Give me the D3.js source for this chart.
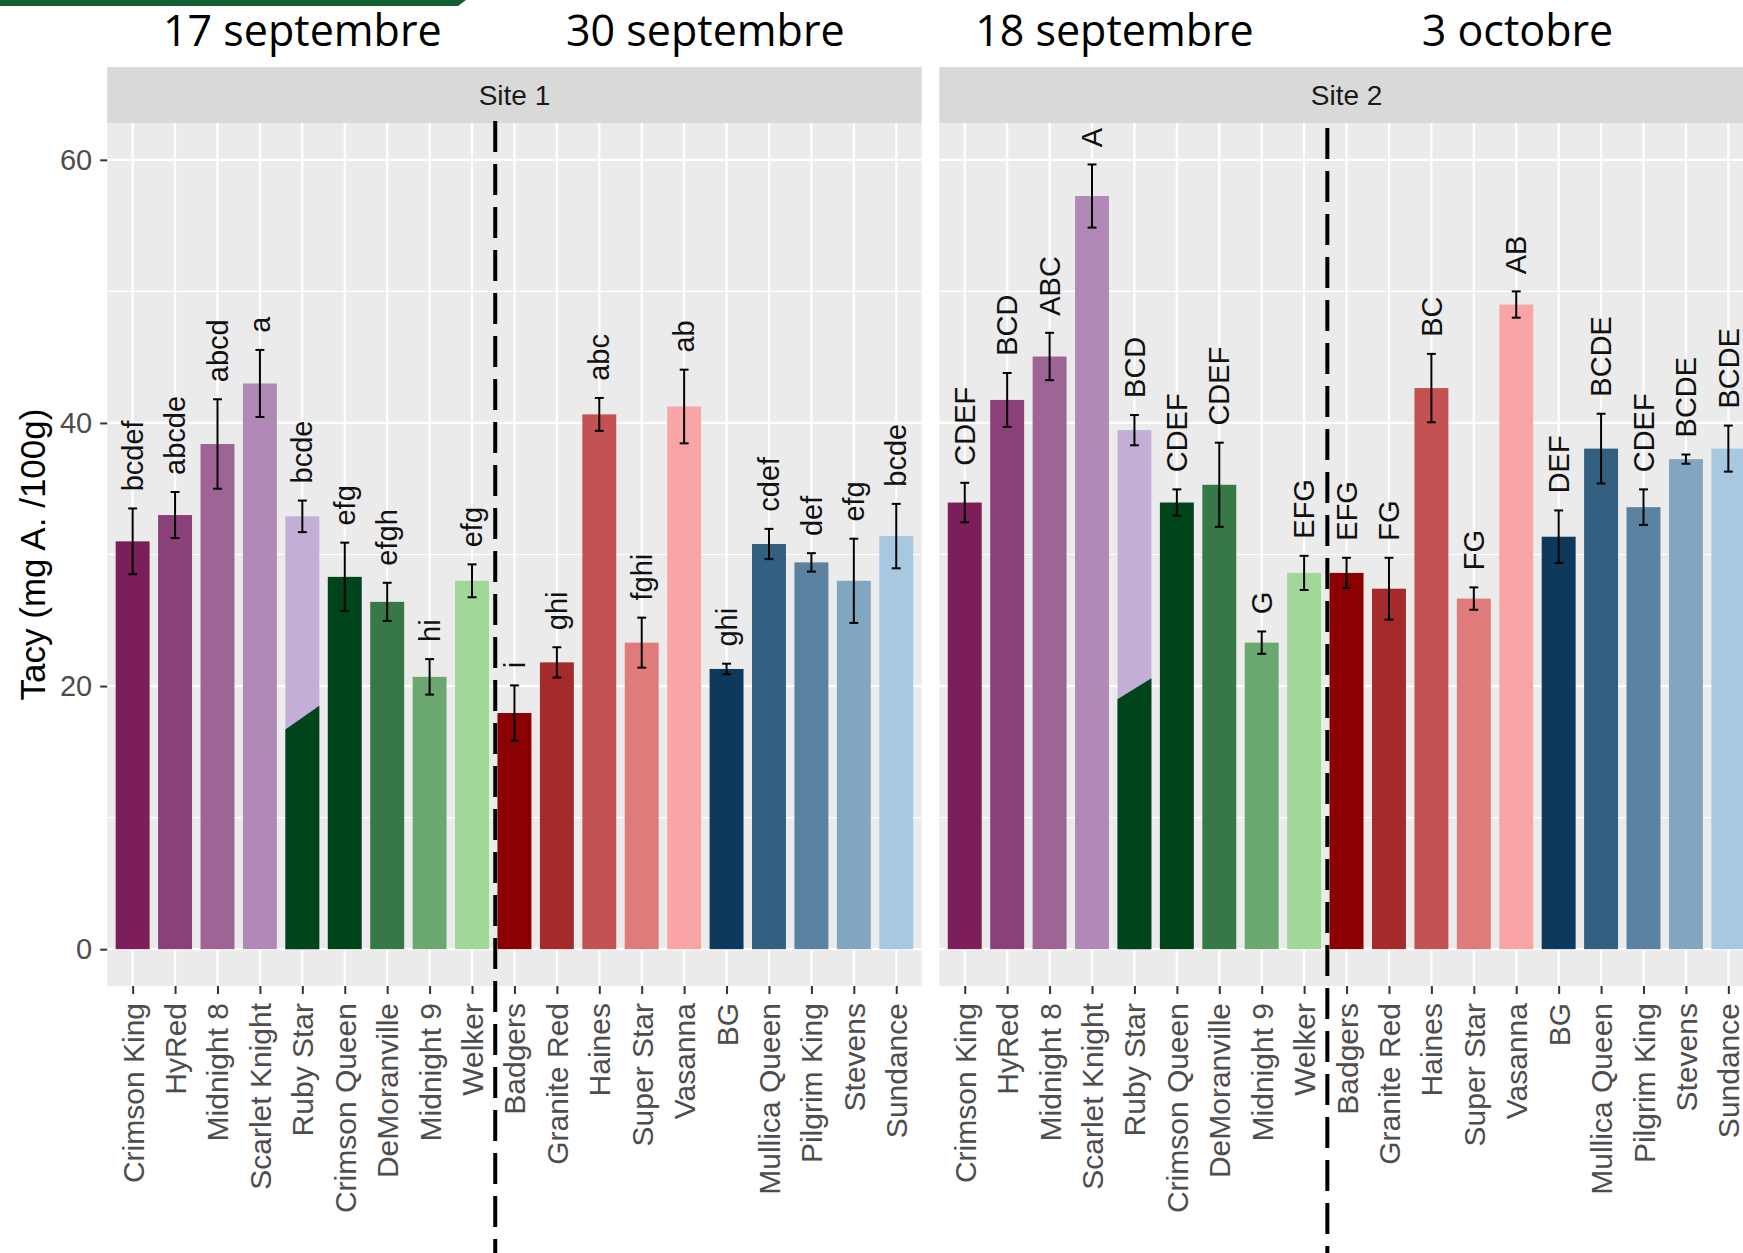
<!DOCTYPE html>
<html>
<head>
<meta charset="utf-8">
<script src="https://cdn.jsdelivr.net/npm/d3@7"></script>
<style>
  body { margin: 0; background: #fff; }
  svg { display: block; font-family: 'Liberation Sans', Arial, sans-serif; }
</style>
</head>
<body>
<svg id="chart" width="1743" height="1253"></svg>
<script>
// cultivars, same order in both sites
const cultivars = ['Crimson King', 'HyRed', 'Midnight 8', 'Scarlet Knight', 'Ruby Star',
  'Crimson Queen', 'DeMoranville', 'Midnight 9', 'Welker', 'Badgers', 'Granite Red',
  'Haines', 'Super Star', 'Vasanna', 'BG', 'Mullica Queen', 'Pilgrim King', 'Stevens', 'Sundance'];

const barColors = ['#7b1e5a', '#8a4079', '#9e6496', '#b189b6', '#c3afd6', '#00441b',
  '#367848', '#6aa86f', '#a1d799', '#8b0000', '#a52a2a', '#c45252', '#e07b7b', '#f9a5a5',
  '#0d3a5c', '#335f80', '#5b82a0', '#80a6c1', '#a7c8e1'];

// Tacy (mg A. /100g), mean and standard error
const site1Mean = [31.0, 33.0, 38.4, 43.0, 32.9, 28.3, 26.4, 20.7, 28.0, 17.95, 21.8,
  40.65, 23.3, 41.25, 21.3, 30.8, 29.4, 28.0, 31.4];
const site1Se = [2.5, 1.75, 3.4, 2.55, 1.2, 2.6, 1.45, 1.35, 1.25, 2.1, 1.15,
  1.25, 1.9, 2.8, 0.4, 1.15, 0.7, 3.2, 2.45];
const site1Letters = ['bcdef', 'abcde', 'abcd', 'a', 'bcde', 'efg', 'efgh', 'hi', 'efg', 'i',
  'ghi', 'abc', 'fghi', 'ab', 'ghi', 'cdef', 'def', 'efg', 'bcde'];

const site2Mean = [33.95, 41.75, 45.05, 57.25, 39.45, 33.95, 35.3, 23.3, 28.6, 28.6, 27.4,
  42.65, 26.65, 49.0, 31.35, 38.05, 33.6, 37.25, 38.05];
const site2Se = [1.5, 2.05, 1.8, 2.4, 1.15, 1.0, 3.2, 0.85, 1.3, 1.15, 2.35,
  2.6, 0.85, 1.0, 2.0, 2.65, 1.35, 0.35, 1.75];
const site2Letters = ['CDEF', 'BCD', 'ABC', 'A', 'BCD', 'CDEF', 'CDEF', 'G', 'EFG', 'EFG',
  'FG', 'BC', 'FG', 'AB', 'DEF', 'BCDE', 'CDEF', 'BCDE', 'BCDE'];

// dark green patch pasted over the lower part of Ruby Star (value at left / right edge)
const rubyOverlayLeft = [16.7, 19.0];
const rubyOverlayRight = [18.5, 20.6];

const siteNames = ['Site 1', 'Site 2'];
const dateTitles = [['17 septembre', '30 septembre'], ['18 septembre', '3 octobre']];
const yTicks = [0, 20, 40, 60];
const yMinor = [10, 30, 50];

const sites = [
  { name: siteNames[0], mean: site1Mean, se: site1Se, letters: site1Letters },
  { name: siteNames[1], mean: site2Mean, se: site2Se, letters: site2Letters }
];

const svg = d3.select('#chart');
const H = 1253;
const stripTop = 67;
const panelTop = 123;
const panelBottom = 986;
const panelW = 814.5;
const panelLefts = [107.2, 939.3];
const dashTops = [121, 128];
const titleShift = [0, -20];

const y = d3.scaleLinear()
  .domain([-2.8, 62.8])
  .range([panelBottom, panelTop]);

// green band at top-left
svg.append('path')
  .attr('d', 'M0,0L466,0L458,6L0,6Z')
  .attr('fill', '#135e32');

sites.forEach((site, i) => {
  const left = panelLefts[i];
  const x = d3.scalePoint()
    .domain(cultivars)
    .range([left, left + panelW])
    .padding(0.6);
  const step = x.step();
  const barW = step * 0.8;
  const capW = step * 0.21;

  const rows = cultivars.map((c, j) => ({
    name: c, mean: site.mean[j], se: site.se[j], letter: site.letters[j], color: barColors[j]
  }));

  const g = svg.append('g');

  g.append('rect')
    .attr('x', left).attr('y', panelTop)
    .attr('width', panelW).attr('height', panelBottom - panelTop)
    .attr('fill', '#ebebeb');

  g.selectAll('.minor')
    .data(yMinor)
    .enter().append('line')
      .attr('x1', left).attr('x2', left + panelW)
      .attr('y1', d => y(d)).attr('y2', d => y(d))
      .attr('stroke', '#fff').attr('stroke-width', 1.2);

  g.selectAll('.major')
    .data(yTicks)
    .enter().append('line')
      .attr('x1', left).attr('x2', left + panelW)
      .attr('y1', d => y(d)).attr('y2', d => y(d))
      .attr('stroke', '#fff').attr('stroke-width', 2.2);

  g.selectAll('.vgrid')
    .data(cultivars)
    .enter().append('line')
      .attr('x1', d => x(d)).attr('x2', d => x(d))
      .attr('y1', panelTop).attr('y2', panelBottom)
      .attr('stroke', '#fff').attr('stroke-width', 2.2);

  g.selectAll('.bar')
    .data(rows)
    .enter().append('rect')
      .attr('x', d => x(d.name) - barW / 2)
      .attr('y', d => y(d.mean))
      .attr('width', barW)
      .attr('height', d => y(0) - y(d.mean))
      .attr('fill', d => d.color);

  // pasted green patch on Ruby Star
  const rx = x('Ruby Star');
  g.append('path')
    .attr('d', `M${rx - barW / 2},${y(0)}L${rx - barW / 2},${y(rubyOverlayLeft[i])}`
      + `L${rx + barW / 2},${y(rubyOverlayRight[i])}L${rx + barW / 2},${y(0)}Z`)
    .attr('fill', '#00441b');

  const err = g.selectAll('.err')
    .data(rows)
    .enter().append('g')
      .attr('stroke', '#000')
      .attr('stroke-width', 2);
  err.append('line')
    .attr('x1', d => x(d.name)).attr('x2', d => x(d.name))
    .attr('y1', d => y(d.mean - d.se)).attr('y2', d => y(d.mean + d.se));
  err.append('line')
    .attr('x1', d => x(d.name) - capW / 2).attr('x2', d => x(d.name) + capW / 2)
    .attr('y1', d => y(d.mean + d.se)).attr('y2', d => y(d.mean + d.se));
  err.append('line')
    .attr('x1', d => x(d.name) - capW / 2).attr('x2', d => x(d.name) + capW / 2)
    .attr('y1', d => y(d.mean - d.se)).attr('y2', d => y(d.mean - d.se));

  g.selectAll('.letter')
    .data(rows)
    .enter().append('text')
      .attr('transform', d => `translate(${x(d.name)},${y(d.mean + d.se + 1.3)}) rotate(-90)`)
      .attr('dy', '0.35em')
      .attr('text-anchor', 'start')
      .attr('font-size', 29)
      .attr('fill', '#111')
      .text(d => d.letter);

  // x axis
  const xAxis = g.append('g')
    .attr('transform', `translate(0,${panelBottom})`)
    .call(d3.axisBottom(x).tickSize(8).tickPadding(9))
    .attr('font-family', null)
    .attr('font-size', null);
  xAxis.select('.domain').remove();
  xAxis.selectAll('.tick line').attr('stroke', '#333').attr('stroke-width', 2);
  xAxis.selectAll('.tick text')
    .attr('transform', 'rotate(-90)')
    .attr('x', -17)
    .attr('y', 0)
    .attr('dy', '0.35em')
    .attr('text-anchor', 'end')
    .attr('font-size', 30)
    .attr('fill', '#4d4d4d');

  // strip
  g.append('rect')
    .attr('x', left).attr('y', stripTop)
    .attr('width', panelW).attr('height', panelTop - stripTop)
    .attr('fill', '#d9d9d9');
  g.append('text')
    .attr('x', left + panelW / 2)
    .attr('y', (stripTop + panelTop) / 2)
    .attr('dy', '0.35em')
    .attr('text-anchor', 'middle')
    .attr('font-size', 28)
    .attr('fill', '#1a1a1a')
    .text(site.name);

  // dashed split between the two harvest dates
  const splitX = (x('Welker') + x('Badgers')) / 2 + 2;
  svg.append('line')
    .attr('x1', splitX).attr('x2', splitX)
    .attr('y1', dashTops[i]).attr('y2', H)
    .attr('stroke', '#000')
    .attr('stroke-width', 4)
    .attr('stroke-dasharray', '31 12');

  // harvest date titles
  const groups = [cultivars.slice(0, 9), cultivars.slice(9)];
  groups.forEach((grp, k) => {
    const cx = (x(grp[0]) + x(grp[grp.length - 1])) / 2 + titleShift[i];
    svg.append('text')
      .attr('x', cx)
      .attr('y', 46)
      .attr('text-anchor', 'middle')
      .attr('font-family', "'Open Sans', sans-serif")
      .attr('font-size', 43)
      .attr('fill', '#000')
      .text(dateTitles[i][k]);
  });
});

// y axis on the first panel
const yAxis = svg.append('g')
  .attr('transform', `translate(${panelLefts[0]},0)`)
  .call(d3.axisLeft(y).tickValues(yTicks).tickSize(7).tickPadding(8))
  .attr('font-family', null)
  .attr('font-size', null);
yAxis.select('.domain').remove();
yAxis.selectAll('.tick line').attr('stroke', '#333').attr('stroke-width', 2);
yAxis.selectAll('.tick text')
  .attr('font-size', 29)
  .attr('fill', '#4d4d4d');

svg.append('text')
  .attr('transform', `translate(33,${(panelTop + panelBottom) / 2}) rotate(-90)`)
  .attr('dy', '0.35em')
  .attr('text-anchor', 'middle')
  .attr('font-size', 35)
  .attr('fill', '#000')
  .text('Tacy (mg A. /100g)');
</script>
</body>
</html>
